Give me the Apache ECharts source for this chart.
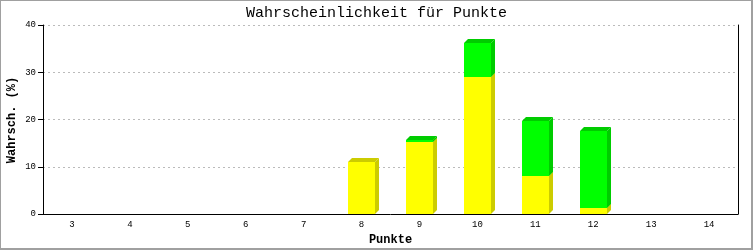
<!DOCTYPE html>
<html>
<head>
<meta charset="utf-8">
<script src="https://cdn.jsdelivr.net/npm/echarts@6/dist/echarts.min.js"></script>
<style>
html,body{margin:0;padding:0;background:#fff;}
#wrap{position:relative;width:753px;height:250px;}
#chart{position:absolute;left:0;top:0;width:753px;height:250px;}
#frame{position:absolute;left:0;top:0;width:750px;height:247px;border-left:1px solid #a0a0a0;border-top:1px solid #a0a0a0;border-right:2px solid #a0a0a0;border-bottom:2px solid #a0a0a0;pointer-events:none;}
</style>
</head>
<body>
<div id="wrap"><div id="chart"></div><div id="frame"></div></div>
<script>
var titleText = 'Wahrscheinlichkeit für Punkte';
var xName = 'Punkte';
var yName = 'Wahrsch. (%)';
var categories = ['3','4','5','6','7','8','9','10','11','12','13','14'];
var yellowValues = [0, 0, 0, 0, 0, 11.0, 15.25, 29.0, 8.05, 1.27, 0, 0];
var greenValues  = [0, 0, 0, 0, 0, 0, 0.45, 7.2, 11.65, 16.3, 0, 0];
var yTicks = [0, 10, 20, 30, 40];

var yellowData = [], greenData = [];
for (var i = 0; i < categories.length; i++) {
  if (yellowValues[i] > 0) yellowData.push([i, 0, yellowValues[i]]);
  if (greenValues[i] > 0) greenData.push([i, yellowValues[i], yellowValues[i] + greenValues[i]]);
}

function makeRender(front, dark) {
  return function (params, api) {
    var cat = api.value(0), lo = api.value(1), hi = api.value(2);
    var pLo = api.coord([cat, lo]);
    var pHi = api.coord([cat, hi]);
    var w = 27, d = 4;
    var x = Math.round(pLo[0] - 13.5);
    var yb = Math.round(pLo[1]);
    var yt = Math.round(pHi[1]);
    return {
      type: 'group',
      children: [
        { type: 'polygon', shape: { points: [[x + w, yt], [x + w + d, yt - d], [x + w + d, yb - d], [x + w, yb]] }, style: { fill: dark } },
        { type: 'polygon', shape: { points: [[x, yt], [x + d, yt - d], [x + w + d, yt - d], [x + w, yt]] }, style: { fill: dark } },
        { type: 'rect', shape: { x: x, y: yt, width: w, height: yb - yt }, style: { fill: front } }
      ]
    };
  };
}

var chart = echarts.init(document.getElementById('chart'), null, { renderer: 'canvas' });
var mono = '"Liberation Mono", "DejaVu Sans Mono", monospace';
chart.setOption({
  backgroundColor: '#ffffff',
  animation: false,
  title: {
    text: titleText, left: 'center', top: 1,
    textStyle: { fontFamily: mono, fontSize: 15, fontWeight: 'normal', color: '#000' }
  },
  graphic: [{
    type: 'text', x: 12, y: 120, rotation: Math.PI / 2,
    style: { text: yName, font: 'bold 12px ' + mono, fill: '#000', align: 'center', verticalAlign: 'middle' }
  }],
  grid: { left: 43, right: 15, top: 25, bottom: 36, containLabel: false, outerBoundsMode: 'none' },
  xAxis: {
    type: 'category', data: categories,
    name: xName, nameLocation: 'middle', nameGap: 20,
    nameTextStyle: { fontFamily: mono, fontSize: 12, fontWeight: 'bold', color: '#000' },
    axisLine: { show: true, lineStyle: { color: '#000', width: 1 } },
    axisTick: { show: false },
    axisLabel: { fontFamily: mono, fontSize: 9, color: '#000', margin: 6 },
    splitLine: { show: false }
  },
  yAxis: [{
    type: 'value', min: 0, max: 40, interval: 10,
    axisLine: { show: true, lineStyle: { color: '#000', width: 1 } },
    axisTick: { show: true, length: 5, lineStyle: { color: '#000' } },
    axisLabel: { fontFamily: mono, fontSize: 9, color: '#000', margin: 7,
      formatter: function (v) { return yTicks.indexOf(v) >= 0 ? String(v) : ''; } },
    splitLine: { show: true, lineStyle: { color: '#bbbbbb', type: [2, 3], width: 1 } }
  }, {
    type: 'value', min: 0, max: 40, interval: 10, position: 'right',
    axisLine: { show: true, lineStyle: { color: '#000', width: 1 } },
    axisTick: { show: false }, axisLabel: { show: false }, splitLine: { show: false }
  }],
  series: [
    { type: 'custom', renderItem: makeRender('#ffff00', '#cccc00'), data: yellowData, encode: { x: 0, y: 2 }, z: 2 },
    { type: 'custom', renderItem: makeRender('#00ff00', '#00cc00'), data: greenData, encode: { x: 0, y: 2 }, z: 3 }
  ]
});
</script>
</body>
</html>
